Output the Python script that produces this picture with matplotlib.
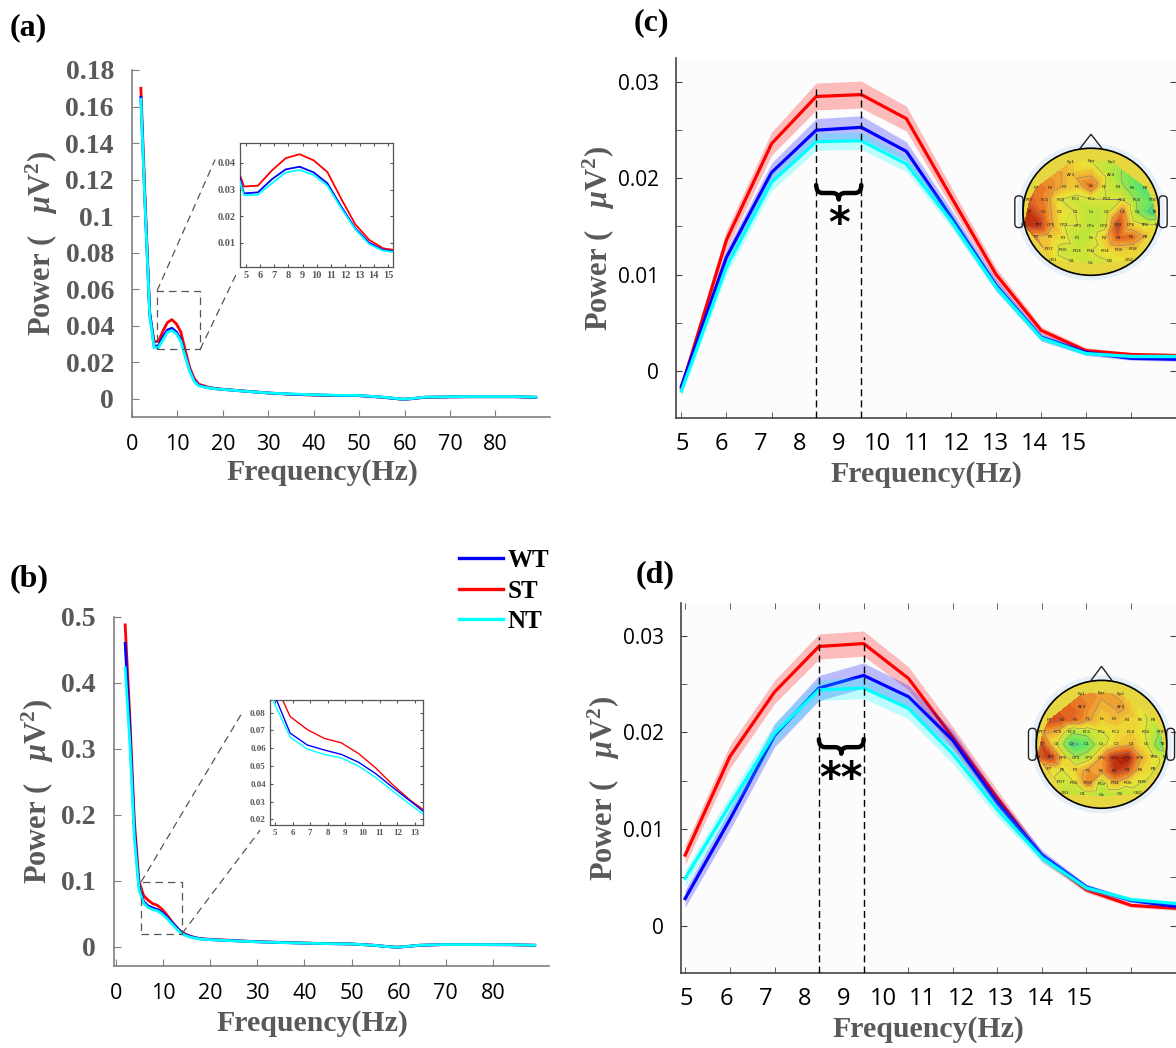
import numpy as np
import matplotlib
matplotlib.use('Agg')
import matplotlib.pyplot as plt
from matplotlib.lines import Line2D
from matplotlib.path import Path
from matplotlib.patches import Ellipse, Polygon, Rectangle, FancyBboxPatch, PathPatch
from matplotlib.colors import LinearSegmentedColormap

plt.rcParams['mathtext.fontset'] = 'custom'
plt.rcParams['mathtext.rm'] = 'Liberation Serif:bold'
plt.rcParams['mathtext.it'] = 'Liberation Serif:italic:bold'
plt.rcParams['mathtext.bf'] = 'Liberation Serif:bold'

# ---------------- data ----------------
groups = ['WT', 'ST', 'NT']
colors = {'WT': '#0000ff', 'ST': '#ff0000', 'NT': '#00ffff'}

# (a)/(b) full spectrum, 0.977 Hz bins up to 18.5 Hz then coarser
freq_ab = [1.95, 2.93, 3.91, 4.88, 5.86, 6.84, 7.81, 8.79, 9.77, 10.74, 11.72,
           12.70, 13.67, 14.65, 15.63, 16.60, 17.58, 18.55, 20.51, 25.39, 30.27,
           35.16, 40.04, 44.92, 49.80, 54.69, 57.62, 59.57, 61.52, 64.45, 69.34,
           74.22, 79.10, 83.98, 88.87]

a_wt = [0.165, 0.103, 0.047, 0.0286, 0.0290, 0.0339, 0.0376, 0.0386, 0.0365, 0.0324,
        0.0236, 0.0155, 0.0101, 0.0074, 0.0067, 0.0062, 0.0057, 0.0054, 0.0050, 0.0040,
        0.0031, 0.0025, 0.0021, 0.0018, 0.0017, 0.0009, 0.0002, -0.0003, 0.0000, 0.0008,
        0.0010, 0.0011, 0.0011, 0.0011, 0.0008]
a_st = [0.170, 0.106, 0.046, 0.0312, 0.0315, 0.0372, 0.0418, 0.0433, 0.0410, 0.0366,
        0.0265, 0.0170, 0.0112, 0.0080, 0.0072, 0.0065, 0.0060, 0.0056, 0.0051, 0.0041,
        0.0031, 0.0024, 0.0020, 0.0018, 0.0017, 0.0009, 0.0002, -0.0003, 0.0000, 0.0008,
        0.0010, 0.0011, 0.0011, 0.0011, 0.0008]
a_nt = [0.164, 0.102, 0.045, 0.0279, 0.0281, 0.0324, 0.0364, 0.0374, 0.0355, 0.0315,
        0.0230, 0.0151, 0.0096, 0.0071, 0.0065, 0.0061, 0.0057, 0.0054, 0.0050, 0.0040,
        0.0031, 0.0026, 0.0022, 0.0019, 0.0018, 0.0010, 0.0003, -0.0002, 0.0001, 0.0009,
        0.0011, 0.0012, 0.0012, 0.0012, 0.0009]

b_wt = [0.460, 0.330, 0.175, 0.092, 0.0685, 0.0618, 0.0590, 0.0565, 0.0521, 0.0458,
        0.0380, 0.0305, 0.0230, 0.0185, 0.0160, 0.0140, 0.0126, 0.0118, 0.0108, 0.0092,
        0.0076, 0.0066, 0.0056, 0.0049, 0.0044, 0.0024, 0.0004, -0.0006, 0.0004, 0.0024,
        0.0034, 0.0034, 0.0033, 0.0032, 0.0024]
b_st = [0.488, 0.350, 0.190, 0.099, 0.0778, 0.0705, 0.0655, 0.0630, 0.0570, 0.0490,
        0.0395, 0.0310, 0.0240, 0.0195, 0.0165, 0.0145, 0.0130, 0.0122, 0.0112, 0.0095,
        0.0078, 0.0068, 0.0058, 0.0050, 0.0045, 0.0025, 0.0005, -0.0005, 0.0005, 0.0025,
        0.0035, 0.0035, 0.0034, 0.0033, 0.0025]
b_nt = [0.423, 0.310, 0.165, 0.087, 0.0662, 0.0595, 0.0565, 0.0545, 0.0500, 0.0436,
        0.0360, 0.0285, 0.0215, 0.0175, 0.0150, 0.0135, 0.0122, 0.0115, 0.0106, 0.0090,
        0.0075, 0.0065, 0.0056, 0.0049, 0.0044, 0.0024, 0.0004, -0.0005, 0.0005, 0.0025,
        0.0035, 0.0035, 0.0034, 0.0033, 0.0025]

# (c)/(d) alpha-band zoom: mean and shaded error
freq_cd = [4.88, 5.86, 6.84, 7.81, 8.79, 9.77, 10.74, 11.72, 12.70, 13.67, 14.65, 15.63]

c_st = [-0.0018, 0.0136, 0.0236, 0.0285, 0.0287, 0.0262, 0.0181, 0.0100, 0.0042, 0.0021, 0.0017, 0.0016]
c_wt = [-0.0016, 0.0118, 0.0206, 0.0250, 0.0253, 0.0228, 0.0160, 0.0089, 0.0035, 0.0019, 0.0013, 0.0012]
c_nt = [-0.0021, 0.0108, 0.0196, 0.0238, 0.0239, 0.0215, 0.0156, 0.0087, 0.0034, 0.0018, 0.0015, 0.0015]
c_st_err = [0.0006, 0.0010, 0.0012, 0.0014, 0.0014, 0.0013, 0.0010, 0.0007, 0.0004, 0.0003, 0.0002, 0.0002]
c_wt_err = [0.0005, 0.0008, 0.0010, 0.0012, 0.0012, 0.0010, 0.0008, 0.0006, 0.0004, 0.0003, 0.0002, 0.0002]
c_nt_err = [0.0005, 0.0008, 0.0009, 0.0009, 0.0009, 0.0008, 0.0007, 0.0005, 0.0003, 0.0002, 0.0002, 0.0002]

d_st = [0.0073, 0.0175, 0.0242, 0.0289, 0.0292, 0.0256, 0.0195, 0.0132, 0.0071, 0.0037, 0.0021, 0.0018]
d_wt = [0.0028, 0.0110, 0.0197, 0.0246, 0.0259, 0.0237, 0.0192, 0.0127, 0.0073, 0.0040, 0.0026, 0.0020]
d_nt = [0.0049, 0.0125, 0.0199, 0.0244, 0.0246, 0.0225, 0.0178, 0.0120, 0.0070, 0.0039, 0.0027, 0.0023]
d_st_err = [0.0010, 0.0012, 0.0012, 0.0013, 0.0013, 0.0012, 0.0011, 0.0008, 0.0005, 0.0003, 0.0002, 0.0002]
d_wt_err = [0.0009, 0.0011, 0.0012, 0.0013, 0.0013, 0.0012, 0.0010, 0.0008, 0.0005, 0.0003, 0.0002, 0.0002]
d_nt_err = [0.0009, 0.0010, 0.0011, 0.0011, 0.0011, 0.0011, 0.0010, 0.0008, 0.0005, 0.0003, 0.0002, 0.0002]

# topographic maps: relative alpha power per electrode (0 = low, 1 = high)
electrode_rows = [
    ['Fp1', 'Fpz', 'Fp2'],
    ['AF3', 'AF4'],
    ['F7', 'F5', 'F3', 'F1', 'Fz', 'F2', 'F4', 'F6', 'F8'],
    ['FT7', 'FC5', 'FC3', 'FC1', 'FCz', 'FC2', 'FC4', 'FC6', 'FT8'],
    ['T7', 'C5', 'C3', 'C1', 'Cz', 'C2', 'C4', 'C6', 'T8'],
    ['M1', 'TP7', 'CP5', 'CP3', 'CP1', 'CPz', 'CP2', 'CP4', 'CP6', 'TP8', 'M2'],
    ['P7', 'P5', 'P3', 'P1', 'Pz', 'P2', 'P4', 'P6', 'P8'],
    ['PO7', 'PO5', 'PO3', 'POz', 'PO4', 'PO6', 'PO8'],
    ['CB1', 'O1', 'Oz', 'O2', 'CB2'],
]
topo_c = [0.62, 0.50, 0.40,
          0.62, 0.40,
          0.78, 0.75, 0.65, 0.60, 0.80, 0.50, 0.40, 0.25, 0.15,
          0.82, 0.75, 0.50, 0.45, 0.50, 0.50, 0.50, 0.30, 0.20,
          0.92, 0.78, 0.55, 0.50, 0.40, 0.45, 0.75, 0.30, 0.08,
          0.92, 0.95, 0.70, 0.50, 0.50, 0.40, 0.45, 0.90, 0.60, 0.50, 0.50,
          0.65, 0.60, 0.55, 0.40, 0.45, 0.60, 0.82, 0.80, 0.65,
          0.60, 0.45, 0.45, 0.50, 0.55, 0.60, 0.60,
          0.55, 0.50, 0.45, 0.50, 0.55]
topo_d = [0.75, 0.70, 0.65,
          0.78, 0.70,
          0.88, 0.85, 0.80, 0.70, 0.60, 0.65, 0.60, 0.55, 0.45,
          0.70, 0.65, 0.35, 0.40, 0.50, 0.55, 0.60, 0.50, 0.30,
          0.88, 0.50, 0.12, 0.18, 0.45, 0.60, 0.65, 0.50, 0.18,
          0.82, 0.92, 0.60, 0.35, 0.45, 0.70, 0.95, 1.00, 0.70, 0.55, 0.45,
          0.55, 0.50, 0.60, 0.72, 0.70, 0.92, 0.85, 0.60, 0.55,
          0.45, 0.50, 0.75, 0.40, 0.65, 0.55, 0.50,
          0.40, 0.40, 0.35, 0.40, 0.45]

# ---------------- style ----------------
W, H = 1176, 1048
fig = plt.figure(figsize=(W / 100, H / 100), dpi=100)

def px_box(l, t, r, b):
    return [l / W, 1 - b / H, (r - l) / W, (b - t) / H]

gray = '#595959'
serif_b = {'family': 'Liberation Serif', 'weight': 'bold'}
sans = {'family': 'Open Sans'}
zorders = {'ST': 2, 'WT': 3, 'NT': 4}
ylabel_txt = r'Power (   $\mu\mathrm{V}^{2}$)'

def fmt(v):
    return '%g' % round(v, 3)

def spectrum_axes(ax, xlim, ylim, yticks, xlab_pos):
    ax.set_xlim(*xlim)
    ax.set_ylim(*ylim)
    for s in ['top', 'right']:
        ax.spines[s].set_visible(False)
    for s in ['left', 'bottom']:
        ax.spines[s].set_color('#7f7f7f')
        ax.spines[s].set_linewidth(1.2)
    ax.set_xticks(np.arange(0, 81, 10))
    ax.set_xticklabels([str(v) for v in range(0, 81, 10)], fontsize=15.5, **sans)
    ax.set_yticks(yticks)
    ax.set_yticklabels([fmt(v) for v in yticks], fontsize=20, color=gray, **serif_b)
    ax.tick_params(direction='in', length=5, color='#7f7f7f')
    ax.tick_params(axis='y', pad=13)
    ax.tick_params(axis='x', pad=12)
    ax.set_xlabel('Frequency(Hz)', fontsize=21.5, color=gray, **serif_b)
    ax.xaxis.set_label_coords(*xlab_pos)
    ax.set_ylabel(ylabel_txt, fontsize=22, color=gray, labelpad=4, **serif_b)

def inset_axes(ax, xlim, ylim, xticks, yticks, fs):
    ax.set_xlim(*xlim)
    ax.set_ylim(*ylim)
    ax.set_xticks(xticks)
    ax.set_xticklabels([str(v) for v in xticks], fontsize=fs, color=gray, **serif_b)
    ax.set_yticks(yticks)
    ax.set_yticklabels(['%.2f' % v for v in yticks], fontsize=fs, color=gray, **serif_b)
    ax.tick_params(direction='in', length=2.5, top=True, right=True, color='#555555', pad=3)
    for s in ax.spines.values():
        s.set_color('#555555')
        s.set_linewidth(0.9)

def zoom_marks(ax, box, lines):
    x0, x1, y0, y1 = box
    ax.add_patch(Rectangle((x0, y0), x1 - x0, y1 - y0, fill=False, ec='#555555',
                           lw=0.9, ls=(0, (6, 4)), zorder=6))
    for (p, q) in lines:
        ax.plot([p[0], q[0]], [p[1], q[1]], color='#555555', lw=0.9,
                ls=(0, (6, 4)), clip_on=False, zorder=6)

series_a = {'WT': a_wt, 'ST': a_st, 'NT': a_nt}
series_b = {'WT': b_wt, 'ST': b_st, 'NT': b_nt}

# ---------------- (a) ----------------
ax_a = fig.add_axes(px_box(132, 70, 550, 417))
for g in groups:
    ax_a.plot(freq_ab, series_a[g], color=colors[g], lw=2.0, zorder=zorders[g])
spectrum_axes(ax_a, (0, 92), (-0.01, 0.18), np.arange(0, 0.181, 0.02), (0.455, -0.122))
zoom_marks(ax_a, (5.5, 15.0, 0.027, 0.059),
           [((5.5, 0.059), (18.3, 0.131)), ((15.0, 0.027), (23.1, 0.069))])

ax_ai = fig.add_axes(px_box(240, 143, 393, 267))
for g in groups:
    ax_ai.plot(freq_ab, series_a[g], color=colors[g], lw=1.3, zorder=zorders[g])
inset_axes(ax_ai, (4.6, 15.35), (0.001, 0.0475), list(range(5, 16)),
           [0.01, 0.02, 0.03, 0.04], 7.5)

# ---------------- (b) ----------------
ax_b = fig.add_axes(px_box(114, 617, 549, 966))
for g in groups:
    ax_b.plot(freq_ab, series_b[g], color=colors[g], lw=2.0, zorder=zorders[g])
spectrum_axes(ax_b, (-0.42, 91.9), (-0.029, 0.5), np.arange(0, 0.51, 0.1), (0.455, -0.125))
zoom_marks(ax_b, (5.3, 14.0, 0.02, 0.098),
           [((5.3, 0.098), (26.7, 0.354)), ((14.0, 0.02), (30.6, 0.177))])

ax_bi = fig.add_axes(px_box(270, 700, 423, 825))
for g in groups:
    ax_bi.plot(freq_ab, series_b[g], color=colors[g], lw=1.0, zorder=zorders[g])
inset_axes(ax_bi, (4.71, 13.46), (0.0168, 0.0871), list(range(5, 14)),
           [0.02, 0.03, 0.04, 0.05, 0.06, 0.07, 0.08], 6.5)

handles = [Line2D([], [], color=colors[g], lw=2.4) for g in groups]
fig.legend(handles, groups, loc='upper left', bbox_to_anchor=(459 / W, 1 - 549 / H),
           frameon=False, prop={'family': 'Liberation Serif', 'weight': 'bold', 'size': 18},
           handlelength=1.75, handletextpad=0.2, labelspacing=0.3, borderpad=0,
           borderaxespad=0)

# ---------------- (c) / (d) ----------------
def draw_brace(ax, x1, x2, yt, yb):
    mid = (x1 + x2) / 2
    ym = yt - 0.55 * (yt - yb)
    q = 0.14 * (x2 - x1)
    verts = [(x1, yt), (x1, ym), (x1 + q, ym), (mid - q, ym), (mid, ym), (mid, yb),
             (mid, ym), (mid + q, ym), (x2 - q, ym), (x2, ym), (x2, yt)]
    codes = [Path.MOVETO, Path.CURVE3, Path.CURVE3, Path.LINETO, Path.CURVE3, Path.CURVE3,
             Path.CURVE3, Path.CURVE3, Path.LINETO, Path.CURVE3, Path.CURVE3]
    ax.add_patch(PathPatch(Path(verts, codes), fill=False, ec='black', lw=3.2,
                           capstyle='round', joinstyle='round', zorder=7))

def band_axes(ax, freq, means, errs, xlim, label_pos, ylim, sig_top, stars):
    ax.set_facecolor('#fcfcfc')
    for g in ['ST', 'WT', 'NT']:
        m = np.array(means[g])
        e = np.array(errs[g])
        ax.fill_between(freq, m - e, m + e, color=colors[g], alpha=0.25, lw=0,
                        zorder=zorders[g])
        ax.plot(freq, m, color=colors[g], lw=2.3, zorder=zorders[g] + 0.5)
    ax.set_xlim(*xlim)
    ax.set_ylim(*ylim)
    for s in ['top', 'right']:
        ax.spines[s].set_visible(False)
    for s in ['left', 'bottom']:
        ax.spines[s].set_color('#444444')
        ax.spines[s].set_linewidth(1.2)
    ax.set_yticks([0, 0.01, 0.02, 0.03])
    ax.set_yticklabels(['0', '0.01', '0.02', '0.03'], fontsize=15, **sans)
    ax.set_yticks([0.005, 0.015, 0.025], minor=True)
    ax.set_xticks(label_pos)
    ax.set_xticklabels([str(v) for v in range(5, 16)], fontsize=17, **sans)
    ax.set_xticks(freq, minor=True)
    ax.tick_params(axis='x', which='major', length=0, pad=10)
    ax.tick_params(axis='x', which='minor', direction='in', length=4, color='#444444')
    ax.tick_params(axis='y', which='both', direction='in', length=4, color='#444444',
                   right=True, pad=12)
    ax.set_xlabel('Frequency(Hz)', fontsize=21.5, color=gray, labelpad=4, **serif_b)
    ax.set_ylabel(ylabel_txt, fontsize=22, color=gray, labelpad=1, **serif_b)
    f1, f2 = freq[3], freq[4]
    ax.vlines([f1, f2], ylim[0], sig_top, colors='black', lw=1.0,
              linestyles=(0, (5, 3)), zorder=6)
    draw_brace(ax, f1, f2, 0.0193, 0.0178)
    ax.text((f1 + f2) / 2, 0.0173, stars, ha='center', va='top', fontsize=30,
            fontweight='bold', family='DejaVu Sans', zorder=7)

ax_c = fig.add_axes(px_box(676, 58, 1176, 418))
band_axes(ax_c, freq_cd, {'WT': c_wt, 'ST': c_st, 'NT': c_nt},
          {'WT': c_wt_err, 'ST': c_st_err, 'NT': c_nt_err},
          (4.763, 15.515), np.linspace(4.89, 13.41, 11), (-0.0049, 0.0325), 0.0293, '*')

ax_d = fig.add_axes(px_box(681, 603, 1176, 973))
band_axes(ax_d, freq_cd, {'WT': d_wt, 'ST': d_st, 'NT': d_nt},
          {'WT': d_wt_err, 'ST': d_st_err, 'NT': d_nt_err},
          (4.79, 15.54), np.linspace(4.915, 13.51, 11), (-0.0049, 0.0334), 0.0299, '**')
ax_d.tick_params(axis='x', which='minor', top=True)

# ---------------- topographic maps ----------------
row_y = [0.80, 0.60, 0.40, 0.20, 0.0, -0.22, -0.42, -0.62, -0.80]
row_span = [0.30, 0.30, 0.80, 0.90, 0.92, 0.98, 0.80, 0.62, 0.56]
ex, ey, names = [], [], []
for row, yy, span in zip(electrode_rows, row_y, row_span):
    for xx, nm in zip(np.linspace(-span, span, len(row)), row):
        ex.append(xx)
        ey.append(yy * (1 - 0.08 * abs(xx)))
        names.append(nm)
ex, ey = np.array(ex), np.array(ey)

topo_cmap = LinearSegmentedColormap.from_list(
    'topo', [(0.0, '#1ed2c8'), (0.2, '#5ee46a'), (0.4, '#b8e63c'), (0.55, '#ece236'),
             (0.7, '#f0a232'), (0.85, '#e0561c'), (1.0, '#a81c08')])

def draw_topo(box, vals):
    ax = fig.add_axes(px_box(*box))
    ax.set_xlim(-1.25, 1.25)
    ax.set_ylim(-1.2, 1.35)
    ax.axis('off')
    ax.add_patch(Ellipse((0, 0), 2.16, 2.16, fc='#e6eff8', ec='none', zorder=0))
    head = Ellipse((0, 0), 2.0, 2.0, fc='#e6d640', ec='none', zorder=1)
    ax.add_patch(head)
    cs = ax.tricontourf(ex, ey, vals, levels=np.linspace(0, 1, 26), cmap=topo_cmap,
                        vmin=0, vmax=1, zorder=2)
    cs.set_clip_path(head)
    cl = ax.tricontour(ex, ey, vals, levels=np.linspace(0.15, 0.85, 5), colors='#7a7a7a',
                       linewidths=0.35, zorder=3)
    cl.set_clip_path(head)
    ax.add_patch(Ellipse((0, 0), 2.0, 2.0, fc='none', ec='black', lw=1.2, zorder=5))
    ax.add_patch(Polygon([(-0.17, 0.985), (0, 1.22), (0.17, 0.985)], closed=False,
                         fill=False, ec='#222222', lw=1.0, zorder=5))
    for side in (-1, 1):
        x0 = 1.0 if side > 0 else -1.12
        ax.add_patch(FancyBboxPatch((x0, -0.25), 0.12, 0.5,
                                    boxstyle='round,pad=0,rounding_size=0.06',
                                    fc='none', ec='#222222', lw=1.0, zorder=4))
    for xx, yy, nm in zip(ex, ey, names):
        ax.text(xx, yy, nm, fontsize=3.2, ha='center', va='center', color='#222222',
                zorder=6)

draw_topo((1006, 126, 1176, 288), topo_c)
draw_topo((1020, 658, 1183, 821), topo_d)

# ---------------- panel letters ----------------
for txt, x, y in [('(a)', 10, 28), ('(b)', 10, 579), ('(c)', 634, 23), ('(d)', 636, 575)]:
    fig.text(x / W, 1 - y / H, txt, fontsize=23, ha='left', va='center',
             family='Liberation Serif', weight='bold')

fig.savefig('out.png', dpi=100)
